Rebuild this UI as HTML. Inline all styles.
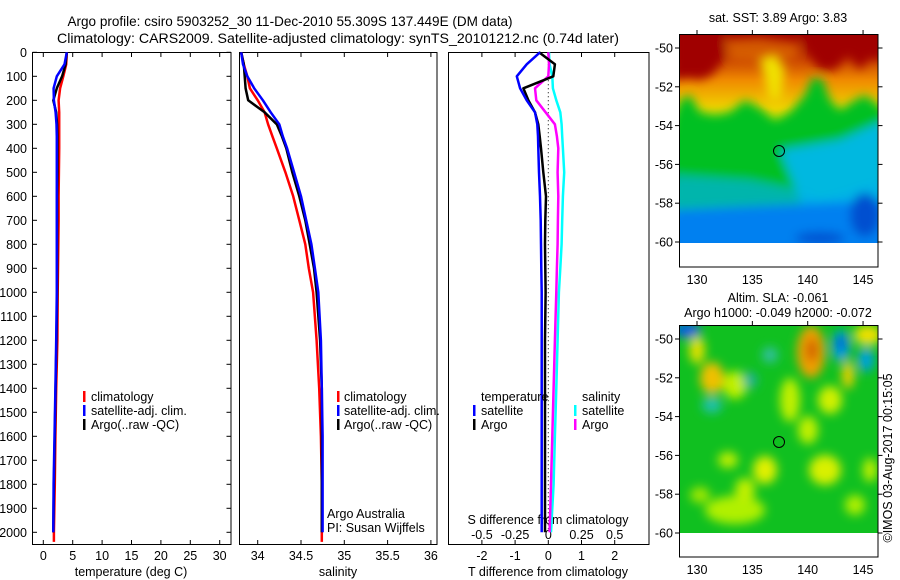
<!DOCTYPE html>
<html><head><meta charset="utf-8">
<style>
html,body{margin:0;padding:0;background:#fff;}
svg{display:block;font-family:"Liberation Sans",sans-serif;}
</style></head>
<body>
<svg id="fig" width="900" height="580" viewBox="0 0 900 580" xmlns="http://www.w3.org/2000/svg">
<defs>
<filter id="blur" x="-20%" y="-20%" width="140%" height="140%"><feGaussianBlur stdDeviation="5"/></filter>
<clipPath id="clipTop"><rect x="679" y="34" width="199" height="209"/></clipPath>
<clipPath id="clipBot"><rect x="679" y="325" width="199" height="208"/></clipPath>
<linearGradient id="sstGrad" x1="0" y1="34" x2="0" y2="243" gradientUnits="userSpaceOnUse">
<stop offset="0" stop-color="#a00000"/><stop offset="0.12" stop-color="#c84000"/>
<stop offset="0.22" stop-color="#f08a00"/><stop offset="0.35" stop-color="#f0d000"/>
<stop offset="0.44" stop-color="#d0f000"/><stop offset="0.48" stop-color="#40d000"/>
<stop offset="0.53" stop-color="#00c820"/><stop offset="0.68" stop-color="#00b840"/>
<stop offset="0.75" stop-color="#00c0b0"/><stop offset="0.83" stop-color="#00b8e8"/>
<stop offset="0.91" stop-color="#0090f0"/><stop offset="1" stop-color="#0060e0"/>
</linearGradient>
</defs>

<g font-size="14" text-anchor="middle">
<text x="290" y="26" textLength="445" lengthAdjust="spacingAndGlyphs">Argo profile: csiro 5903252_30 11-Dec-2010 55.309S 137.449E (DM data)</text>
<text x="338" y="43" textLength="562" lengthAdjust="spacingAndGlyphs">Climatology: CARS2009. Satellite-adjusted climatology: synTS_20101212.nc (0.74d later)</text>
</g>

<g id="axes"></g>
<g id="marks"></g>

<g font-size="12.5">
<rect x="83" y="391" width="2.5" height="11" fill="#f00"/><text x="91" y="401">climatology</text>
<rect x="83" y="405" width="2.5" height="11" fill="#00f"/><text x="91" y="415">satellite-adj. clim.</text>
<rect x="83" y="419" width="2.5" height="11" fill="#000"/><text x="91" y="429">Argo(..raw -QC)</text>
</g>
<g font-size="12.5">
<rect x="337" y="391" width="2.5" height="11" fill="#f00"/><text x="344" y="401">climatology</text>
<rect x="337" y="405" width="2.5" height="11" fill="#00f"/><text x="344" y="415">satellite-adj. clim.</text>
<rect x="337" y="419" width="2.5" height="11" fill="#000"/><text x="344" y="429">Argo(..raw -QC)</text>
</g>
<g font-size="12.5">
<text x="327" y="518">Argo Australia</text>
<text x="327" y="532">PI: Susan Wijffels</text>
</g>
<g font-size="12.5">
<text x="481" y="401">temperature</text>
<rect x="473" y="405" width="2.5" height="11" fill="#00f"/><text x="481" y="415">satellite</text>
<rect x="473" y="419" width="2.5" height="11" fill="#000"/><text x="481" y="429">Argo</text>
<text x="582" y="401">salinity</text>
<rect x="574" y="405" width="2.5" height="11" fill="#0ff"/><text x="582" y="415">satellite</text>
<rect x="574" y="419" width="2.5" height="11" fill="#f0f"/><text x="582" y="429">Argo</text>
</g>

<g>
<text x="778" y="22" font-size="12.5" text-anchor="middle">sat. SST: 3.89 Argo: 3.83</text>
<g clip-path="url(#clipTop)">
<rect x="679" y="34" width="199" height="209" fill="url(#sstGrad)"/>
<g filter="url(#blur)">
<polygon points="672,28 725,28 725,58 712,75 700,80 690,78 672,80" fill="#a00000"/>
<polygon points="800,28 885,28 885,60 870,58 860,70 848,55 835,70 820,70 805,50" fill="#a00000"/>
<polygon points="725,40 760,38 800,45 795,60 760,62 730,60" fill="#e07000" opacity="0.7"/>
<polygon points="760,60 775,55 785,70 780,100 770,100 765,80" fill="#f0e000"/>
<polygon points="680,100 690,95 700,112 715,115 730,112 745,100 760,108 775,120 790,112 805,95 812,78 822,78 830,100 840,110 855,100 865,95 885,110 885,250 672,250 672,120" fill="#00c020"/>
<polygon points="780,150 840,140 885,120 885,250 820,250 800,200" fill="#00b8e0"/>
<polygon points="672,175 750,180 800,190 820,200 885,180 885,250 672,250" fill="#00b0e8" opacity="0.7"/>
<polygon points="672,210 885,200 885,250 672,250" fill="#0080f0"/>
<ellipse cx="865" cy="215" rx="15" ry="22" fill="#0050d0"/>
<ellipse cx="820" cy="238" rx="25" ry="6" fill="#0050d0"/>
</g>
</g>
<circle cx="779" cy="151" r="5.5" fill="none" stroke="#000" stroke-width="1"/>
<rect x="679.5" y="34.5" width="198.5" height="232.5" fill="none" stroke="#000"/>
</g>

<g>
<text x="778" y="302" font-size="12.5" text-anchor="middle">Altim. SLA: -0.061</text>
<text x="778" y="317" font-size="12.5" text-anchor="middle">Argo h1000: -0.049 h2000: -0.072</text>
<g clip-path="url(#clipBot)">
<rect x="679" y="325" width="199" height="208" fill="#10c020"/>
<g filter="url(#blur)">
<ellipse cx="687" cy="330" rx="14" ry="8" fill="#0060e0"/>
<ellipse cx="697" cy="350" rx="8" ry="14" fill="#e0e000"/>
<ellipse cx="712" cy="378" rx="12" ry="16" fill="#f0c000"/>
<ellipse cx="735" cy="385" rx="12" ry="14" fill="#c0f000"/>
<ellipse cx="712" cy="405" rx="10" ry="8" fill="#20c0b0"/>
<ellipse cx="750" cy="380" rx="7" ry="8" fill="#20b0a0"/>
<ellipse cx="811" cy="352" rx="14" ry="26" fill="#f0a000"/>
<ellipse cx="812" cy="350" rx="6" ry="12" fill="#d06000"/>
<ellipse cx="841" cy="346" rx="9" ry="16" fill="#00a0e0"/>
<ellipse cx="841" cy="343" rx="4" ry="7" fill="#0040d0"/>
<ellipse cx="866" cy="360" rx="8" ry="12" fill="#00a0e0"/>
<ellipse cx="868" cy="335" rx="14" ry="10" fill="#f0e000"/>
<ellipse cx="848" cy="375" rx="6" ry="14" fill="#f0d000"/>
<ellipse cx="830" cy="400" rx="12" ry="14" fill="#d0f000"/>
<ellipse cx="790" cy="400" rx="10" ry="22" fill="#c0f000"/>
<ellipse cx="808" cy="430" rx="10" ry="14" fill="#c0f000"/>
<ellipse cx="825" cy="470" rx="16" ry="15" fill="#d8f000"/>
<ellipse cx="765" cy="470" rx="12" ry="14" fill="#e0f000"/>
<ellipse cx="728" cy="460" rx="10" ry="8" fill="#c0f000"/>
<ellipse cx="735" cy="510" rx="30" ry="14" fill="#b0f000"/>
<ellipse cx="770" cy="355" rx="8" ry="8" fill="#30c0a0"/>
<ellipse cx="745" cy="490" rx="10" ry="12" fill="#c0f000"/>
<ellipse cx="855" cy="505" rx="10" ry="10" fill="#b0f000"/>
<ellipse cx="870" cy="470" rx="7" ry="12" fill="#c0f000"/>
<ellipse cx="700" cy="495" rx="10" ry="8" fill="#a0e800"/>
</g>
</g>
<circle cx="779" cy="442" r="5.5" fill="none" stroke="#000" stroke-width="1"/>
<rect x="679.5" y="325.5" width="198.5" height="231.5" fill="none" stroke="#000"/>
</g>
<text transform="translate(892,458) rotate(-90)" font-size="12.5" text-anchor="middle">©IMOS 03-Aug-2017 00:15:05</text>

<script>
var depths = [0,50,100,150,200,250,300,350,400,500,600,700,800,900,1000,1200,1400,1600,1800,2000];
var tempClim = [4.0,3.9,3.4,2.85,2.6,2.7,2.7,2.7,2.7,2.65,2.6,2.6,2.55,2.5,2.45,2.4,2.2,2.05,1.95,1.8];
var tempSat  = [4.0,3.6,2.3,1.75,1.8,2.1,2.25,2.3,2.3,2.3,2.3,2.3,2.3,2.3,2.3,2.2,2.05,1.9,1.75,1.7];
var tempArgo = [4.0,3.8,3.2,2.3,1.7,2.2,2.35,2.4,2.4,2.4,2.35,2.35,2.35,2.35,2.35,2.25,2.1,1.95,1.8,1.7];
var salClim = [33.81,33.84,33.88,33.91,34.00,34.08,34.12,34.17,34.22,34.32,34.41,34.48,34.55,34.59,34.64,34.68,34.71,34.73,34.74,34.74];
var salSat  = [33.81,33.83,33.88,33.96,34.06,34.15,34.25,34.29,34.34,34.42,34.50,34.56,34.62,34.66,34.70,34.73,34.74,34.75,34.75,34.75];
var salArgo = [33.81,33.84,33.85,33.86,33.89,34.08,34.22,34.28,34.33,34.40,34.48,34.55,34.60,34.65,34.68,34.72,34.74,34.74,34.74,34.74];
var tDiffSat  = [-0.25,-0.65,-0.95,-0.85,-0.65,-0.4,-0.33,-0.31,-0.3,-0.28,-0.25,-0.23,-0.22,-0.21,-0.2,-0.2,-0.2,-0.2,-0.2,-0.2];
var tDiffArgo = [-0.28,0.2,0.15,-0.75,-0.6,-0.4,-0.3,-0.26,-0.22,-0.15,-0.07,-0.09,-0.1,-0.09,-0.08,-0.1,-0.1,-0.1,-0.1,-0.1];
var sDiffSat  = [0.005,0.01,0.03,0.035,0.06,0.09,0.1,0.105,0.11,0.12,0.11,0.105,0.1,0.09,0.08,0.07,0.06,0.05,0.04,0.02];
var sDiffArgo = [0,0.005,0,-0.1,-0.09,-0.02,0.05,0.065,0.075,0.07,0.075,0.072,0.07,0.065,0.06,0.05,0.04,0.03,0.02,0.01];
var depthTicks = [0,100,200,300,400,500,600,700,800,900,1000,1100,1200,1300,1400,1500,1600,1700,1800,1900,2000];
var tempTicks = [0,5,10,15,20,25,30];
var salTicks = [34,34.5,35,35.5,36];
var tDiffTicks = [-2,-1,0,1,2];
var sDiffTicks = [-0.5,-0.25,0,0.25,0.5];
var sDiffLabels = ["-0.5","-0.25","0","0.25","0.5"];
var latTicks = [-50,-52,-54,-56,-58,-60];
var lonTicks = [130,135,140,145];

function yD(d){return 52.3 + d*0.24;}
function xT(t){return 43.3 + t*5.88;}
function xS(s){return 257.7 + (s-34)*86.6;}
function xDT(v){return 548.3 + v*33.2;}
function xDS(v){return 548.3 + v*132.8;}
function latY(lat, top){return top + 14 + (-50-lat)*19.4;}
function lonX(lon){return 697 + (lon-130)*11.07;}

var NS='http://www.w3.org/2000/svg';
var axes=document.getElementById('axes');
var marks=document.getElementById('marks');
function mk(tag, attrs, parent){
  var e=document.createElementNS(NS,tag);
  for(var k in attrs) e.setAttribute(k, attrs[k]);
  parent.appendChild(e); return e;
}
function txt(str, x, y, anchor, parent, size){
  var t=mk('text',{x:x,y:y,'text-anchor':anchor||'middle','font-size':size||12.5},parent);
  t.textContent=str; return t;
}

var panels=[[32.5,231,'temperature-panel'],[239.5,437,'salinity-panel'],[448.5,649,'difference-panel']];
panels.forEach(function(p){
  var r=mk('rect',{x:p[0],y:52.5,width:p[1]-p[0],height:492,fill:'none',stroke:'#000','stroke-width':1},axes);
  
  
});

depthTicks.forEach(function(d){
  var y=yD(d);
  mk('line',{x1:32.5,x2:37,y1:y,y2:y,stroke:'#000'},axes);
  mk('line',{x1:226.5,x2:231,y1:y,y2:y,stroke:'#000'},axes);
  var t=txt(String(d),27,y+4.5,'end',axes);
  
  
});

function xAxis(ticks, labels, fx, labelY){
  ticks.forEach(function(v,i){
    var x=fx(v);
    mk('line',{x1:x,x2:x,y1:52.5,y2:57,stroke:'#000'},axes);
    mk('line',{x1:x,x2:x,y1:540,y2:544.5,stroke:'#000'},axes);
    var t=txt(labels[i],x,labelY,'middle',axes);
    
    
  });
}
xAxis(tempTicks, tempTicks.map(String), xT, 560);
xAxis(salTicks, salTicks.map(String), xS, 560);
xAxis(tDiffTicks, tDiffTicks.map(String), xDT, 560);
sDiffTicks.forEach(function(v,i){
  var t=txt(sDiffLabels[i], xDS(v), 539, 'middle', axes);
  
  
});
var at;
at=txt('temperature (deg C)',131,576,'middle',axes);


at=txt('salinity',338,576,'middle',axes);


at=txt('T difference from climatology',548,576,'middle',axes);


at=txt('S difference from climatology',548,524,'middle',axes);



var zl=mk('line',{x1:xDT(0),x2:xDT(0),y1:yD(0),y2:yD(2000),stroke:'#000','stroke-dasharray':'1,3'},marks);



function series(vals, fx, color, name, extend){
  var pts=vals.map(function(v,i){return fx(v).toFixed(1)+','+yD(depths[i]).toFixed(1);});
  if(extend){ pts.push(fx(vals[vals.length-1]).toFixed(1)+','+yD(2040).toFixed(1)); }
  var pl=mk('polyline',{points:pts.join(' '),fill:'none',stroke:color,'stroke-width':2.5,'stroke-linejoin':'round'},marks);
  
  
}
series(tempClim, xT, '#f00', 'temperature-climatology-line', true);
series(tempArgo, xT, '#000', 'temperature-argo-line');
series(tempSat, xT, '#00f', 'temperature-satellite-line');
series(salClim, xS, '#f00', 'salinity-climatology-line', true);
series(salArgo, xS, '#000', 'salinity-argo-line');
series(salSat, xS, '#00f', 'salinity-satellite-line');
series(sDiffSat, xDS, '#0ff', 'salinity-diff-satellite-line');
series(sDiffArgo, xDS, '#f0f', 'salinity-diff-argo-line');
series(tDiffArgo, xDT, '#000', 'temperature-diff-argo-line');
series(tDiffSat, xDT, '#00f', 'temperature-diff-satellite-line');

[34,325].forEach(function(top, mi){
  var boxBottom = mi===0 ? 267 : 557;
  latTicks.forEach(function(lat){
    var y=latY(lat, top);
    mk('line',{x1:675,x2:679.5,y1:y,y2:y,stroke:'#000'},axes);
    mk('line',{x1:878,x2:882.5,y1:y,y2:y,stroke:'#000'},axes);
    var t=txt(String(lat),673,y+4.5,'end',axes);
    
    
  });
  lonTicks.forEach(function(lon){
    var x=lonX(lon);
    mk('line',{x1:x,x2:x,y1:top-4,y2:top+0.5,stroke:'#000'},axes);
    var t=txt(String(lon),x,boxBottom+17,'middle',axes);
    
    
  });
});
</script>
</svg>
</body></html>
